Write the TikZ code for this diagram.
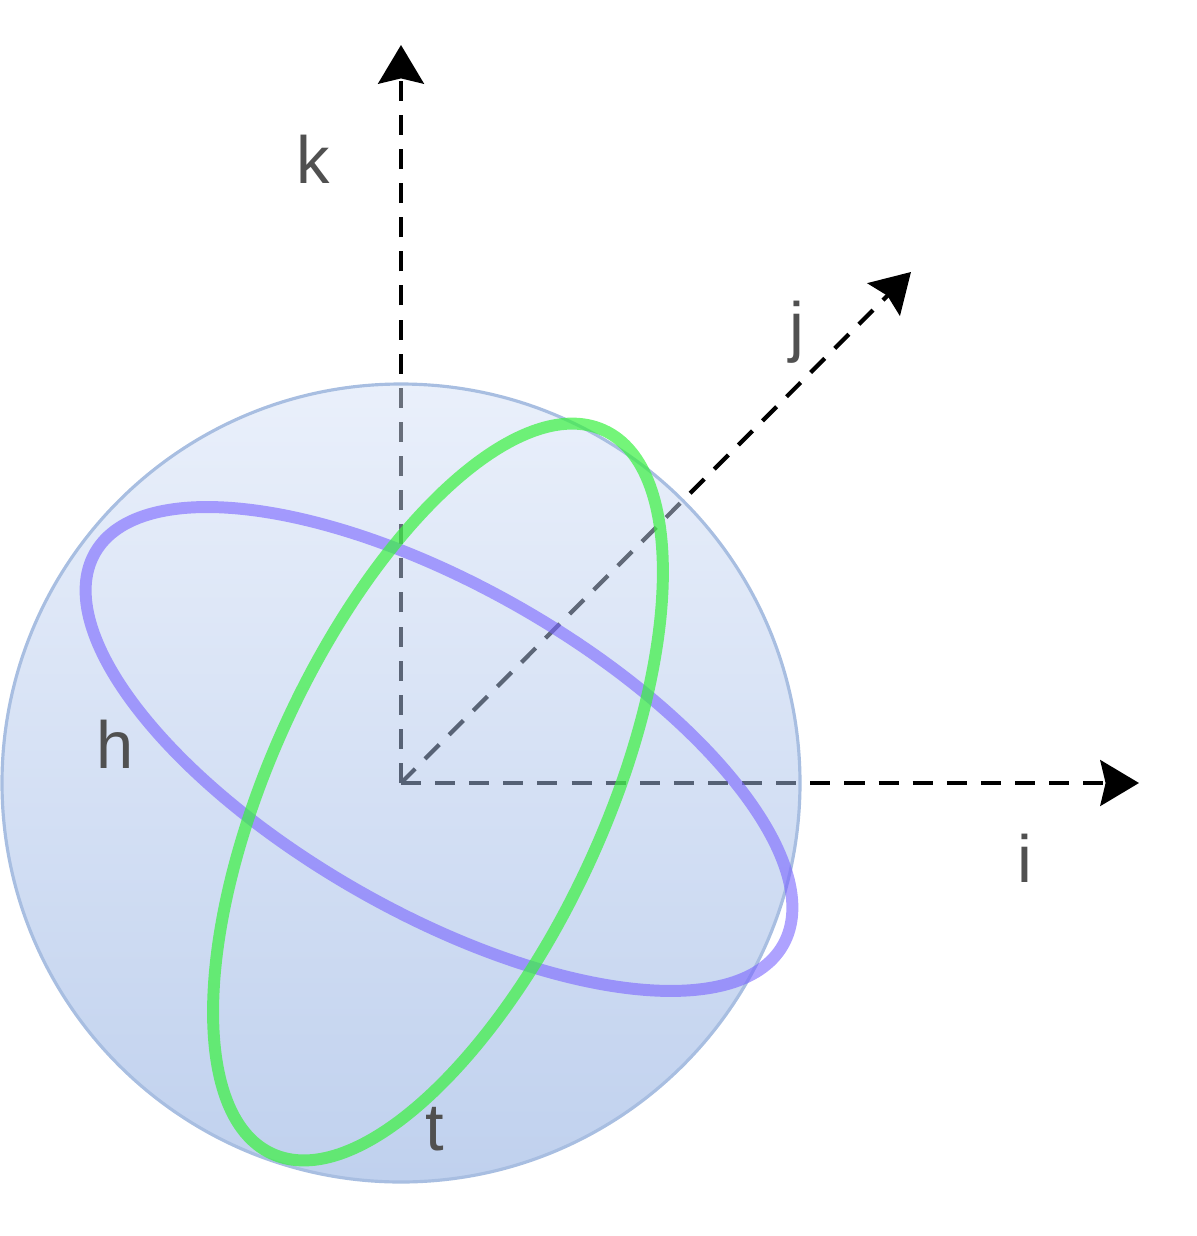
\documentclass[tikz,border=0pt]{standalone}
\usepackage{fontspec}
\setmainfont{Liberation Sans}
\usetikzlibrary{arrows.meta}
\definecolor{sphtop}{RGB}{213,225,247}
\definecolor{sphbot}{RGB}{129,163,221}
\definecolor{sphrim}{RGB}{168,190,225}
\definecolor{hcol}{RGB}{120,100,255}
\definecolor{tcol}{RGB}{57,241,64}
\definecolor{lblcol}{RGB}{80,80,80}
\tikzset{
  axisline/.style={line width=1.2pt, dash pattern=on 5.7pt off 4pt, -{Stealth[length=11pt,width=13pt,inset=1.5pt]}},
  ring/.style={line width=3.4pt},
  lbl/.style={anchor=base, text=lblcol, inner sep=0pt, font=\fontsize{19}{20}\selectfont}
}
\begin{document}
\begin{tikzpicture}[x=0.01cm, y=0.01cm]
\useasboundingbox (0,0) rectangle (1196,-1236);
% axes
\coordinate (o) at (401,-783);
\coordinate (ktip) at (401,-45);
\coordinate (itip) at (1139,-783);
\coordinate (jtip) at (911,-272);
\draw[axisline] (o) -- (ktip);
\draw[axisline] (o) -- (itip);
\draw[axisline] (o) -- (jtip);
% sphere
\shade[top color=sphtop, bottom color=sphbot, fill opacity=0.5] (o) circle [radius=399];
\draw[sphrim, line width=0.9pt] (o) circle [radius=399];
% rings
\coordinate (hc) at (439,-749);
\coordinate (tc) at (438,-792);
\draw[ring, hcol, draw opacity=0.6, rotate around={-29.7:(hc)}] (hc) ellipse [x radius=396, y radius=163];
\draw[ring, tcol, draw opacity=0.7, rotate around={65.35:(tc)}] (tc) ellipse [x radius=398, y radius=167];
% labels
\node[lbl] (klbl) at (313,-183) {k};
\node[lbl] (jlbl) at (797,-349) {j};
\node[lbl] (ilbl) at (1025,-882) {i};
\node[lbl] (hlbl) at (115,-768) {h};
\node[lbl] (tlbl) at (435,-1150) {t};
\end{tikzpicture}
\end{document}
